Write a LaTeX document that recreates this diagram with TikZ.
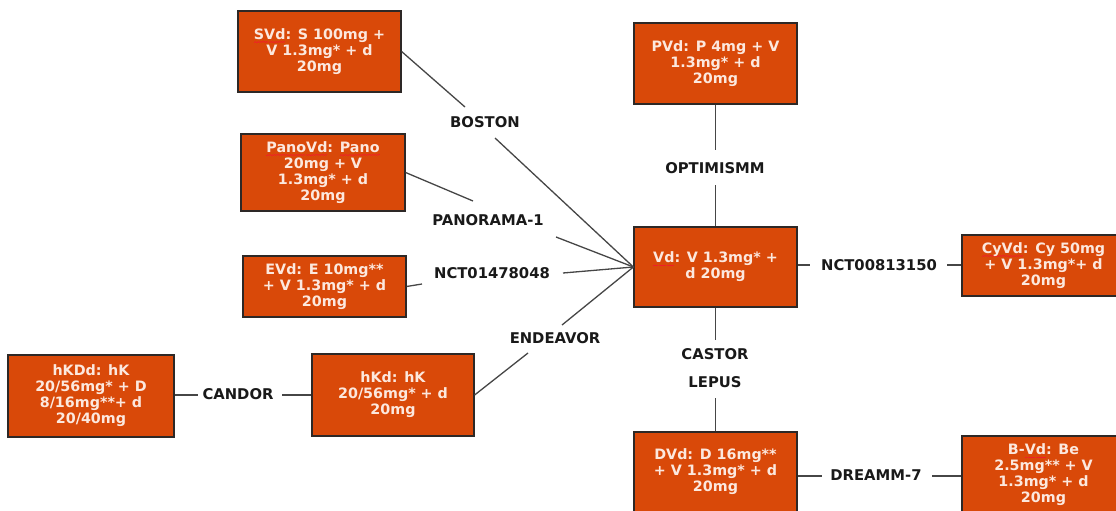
\documentclass[tikz,border=0pt]{standalone}
\usepackage{fontspec}
\setmainfont{DejaVu Sans}
\definecolor{boxfill}{RGB}{217,73,9}
\definecolor{boxline}{RGB}{45,40,38}
\definecolor{boxtext}{RGB}{252,232,222}
\definecolor{linkgray}{RGB}{70,70,70}
\definecolor{labeltext}{RGB}{25,25,25}
\definecolor{squig}{RGB}{240,30,40}
% red wavy underline, as left by a spell checker
\newsavebox\wavebox
\newcommand\spellwave[1]{\sbox\wavebox{#1}%
  \rlap{\color{squig}\raisebox{-3.5pt}{\hbox to \wd\wavebox{%
    \xleaders\hbox to 2.4pt{\rule{1.2pt}{1pt}\rule[0.8pt]{1.2pt}{1pt}}\hfill}}}%
  \usebox\wavebox}
\tikzset{
  regimen/.style={rectangle, draw=boxline, line width=1.2pt, fill=boxfill,
    text=boxtext, align=center, minimum width=163pt, inner sep=0pt,
    font=\fontsize{14.3}{16}\selectfont\bfseries},
  trial/.style={text=labeltext, inner sep=0pt,
    font=\fontsize{14.8}{16}\selectfont\bfseries},
  link/.style={draw=linkgray, line width=1.3pt}
}
\begin{document}
\begin{tikzpicture}[x=1pt, y=-1pt]
\useasboundingbox (0,0) rectangle (1116,511);

% regimen boxes
\node[regimen, minimum height=81pt] (svd) at (319.5,51.5)
  {\spellwave{SVd}: S 100mg +\\V 1.3mg* + d\\20mg};
\node[regimen, minimum height=77pt, minimum width=164pt] (panovd) at (323,172.5)
  {\spellwave{PanoVd}: \spellwave{Pano}\\20mg + V\\1.3mg* + d\\20mg};
\node[regimen, minimum height=61pt] (evd) at (324.5,286.5)
  {EVd: E 10mg**\\+ V 1.3mg* + d\\20mg};
\node[regimen, minimum height=82pt, minimum width=166pt] (hkdd) at (91,396)
  {hKDd: hK\\20/56mg* + D\\8/16mg**+ d\\20/40mg};
\node[regimen, minimum height=82pt, minimum width=162pt] (hkd) at (393,395)
  {hKd: hK\\20/56mg* + d\\20mg};
\node[regimen, minimum height=81pt] (pvd) at (715.5,63.5)
  {PVd: P 4mg + V\\1.3mg* + d\\20mg};
\node[regimen, minimum height=80pt] (vd) at (715.5,267)
  {\spellwave{Vd}: V 1.3mg* +\\d 20mg};
\node[regimen, minimum height=61pt] (cyvd) at (1043.5,265.5)
  {\spellwave{CyVd}: Cy 50mg\\+ V 1.3mg*+ d\\20mg};
\node[regimen, minimum height=80pt] (dvd) at (715.5,472)
  {DVd: D 16mg**\\+ V 1.3mg* + d\\20mg};
\node[regimen, minimum height=78pt] (bvd) at (1043.5,475)
  {B-\spellwave{Vd}: Be\\2.5mg** + V\\1.3mg* + d\\20mg};

% trial names
\node[trial] (lboston) at (485,122) {BOSTON};
\node[trial] (lpano) at (488,220) {PANORAMA-1};
\node[trial] (lnctA) at (492,273) {NCT01478048};
\node[trial] (lendeavor) at (555,338) {ENDEAVOR};
\node[trial] (lcandor) at (238,394) {CANDOR};
\node[trial] (loptim) at (715,168) {OPTIMISMM};
\node[trial] (lnctB) at (879,265) {NCT00813150};
\node[trial] (lcastor) at (715,354) {CASTOR};
\node[trial] (llepus) at (715,382) {LEPUS};
\node[trial] (ldreamm) at (876,475) {DREAMM-7};

% ends of the connector pieces beside the trial names
\coordinate (bA) at (465,107);  \coordinate (bB) at (495,138);
\coordinate (pA) at (473,201);  \coordinate (pB) at (556,237);
\coordinate (nA) at (422,284);  \coordinate (nB) at (563,273);
\coordinate (eA) at (528,353);  \coordinate (eB) at (562,325);
\coordinate (cA) at (198,395);  \coordinate (cB) at (282,395);
\coordinate (oA) at (715.5,150); \coordinate (oB) at (715.5,185);
\coordinate (kA) at (715.5,340); \coordinate (kB) at (715.5,398);
\coordinate (tA) at (810,265);  \coordinate (tB) at (947,265);
\coordinate (dA) at (822,476);  \coordinate (dB) at (932,476);

% connectors
\draw[link] (svd.east) -- (bA);  \draw[link] (bB) -- (vd.west);
\draw[link] (panovd.east) -- (pA); \draw[link] (pB) -- (vd.west);
\draw[link] (evd.east) -- (nA);  \draw[link] (nB) -- (vd.west);
\draw[link] (hkd.east) -- (eA);  \draw[link] (eB) -- (vd.west);
\draw[link] (hkdd.east |- cA) -- (cA); \draw[link] (cB) -- (hkd.west |- cB);
\draw[link] (pvd.south) -- (oA); \draw[link] (oB) -- (vd.north);
\draw[link] (vd.south) -- (kA);  \draw[link] (kB) -- (dvd.north);
\draw[link] (vd.east |- tA) -- (tA); \draw[link] (tB) -- (cyvd.west |- tB);
\draw[link] (dvd.east |- dA) -- (dA); \draw[link] (dB) -- (bvd.west |- dB);
\end{tikzpicture}
\end{document}
